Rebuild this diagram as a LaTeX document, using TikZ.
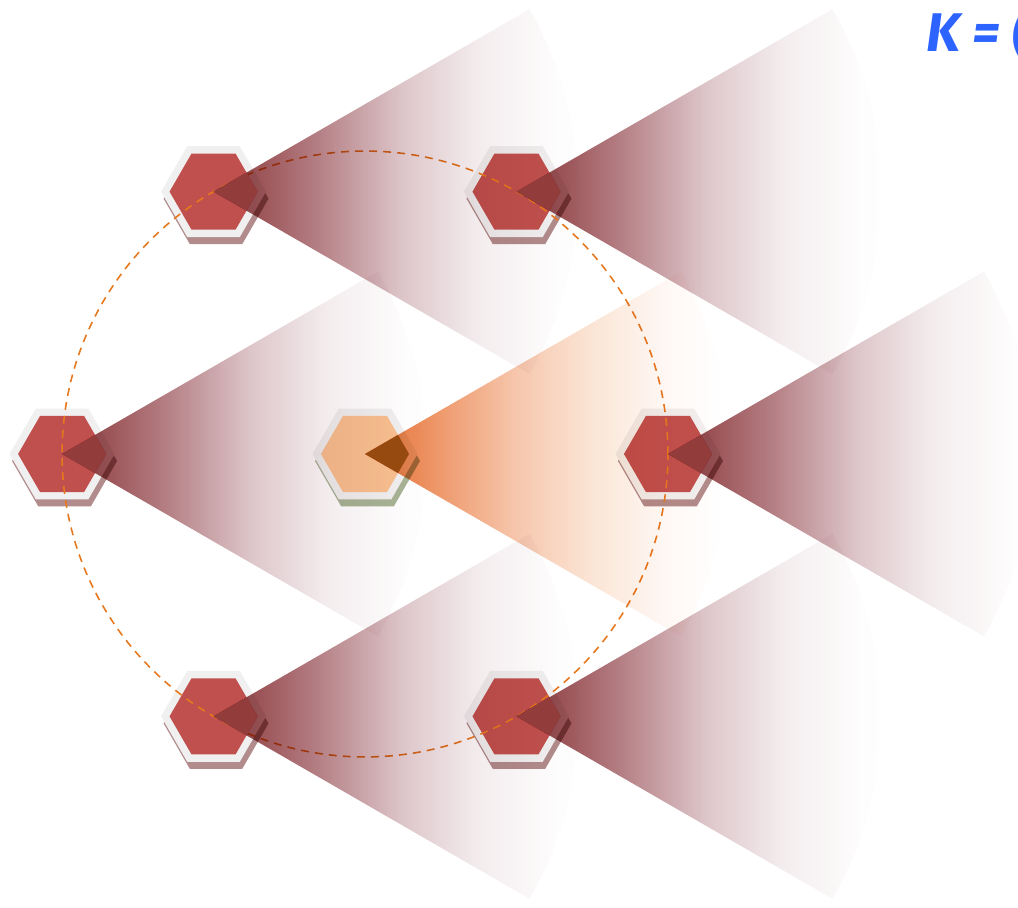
\documentclass[tikz,border=0pt]{standalone}
\usepackage{fontspec}
\setsansfont{Fira Sans}
\definecolor{hexRed}{RGB}{192,80,77}
\definecolor{hexOrange}{RGB}{248,192,144}
\definecolor{rimGray}{RGB}{240,240,240}
\definecolor{shadeRed}{RGB}{178,140,140}
\definecolor{shadeGreen}{RGB}{168,180,150}
\definecolor{apexRed}{RGB}{147,60,60}
\definecolor{apexBrown}{RGB}{150,74,16}
\definecolor{ringOrange}{RGB}{230,120,30}
\definecolor{inkBlue}{RGB}{45,100,255}
\usetikzlibrary{shapes.geometric,shadows,calc}
\pgfdeclarehorizontalshading{redCone}{100bp}{
  rgb(0bp)=(0.56,0.24,0.25); rgb(25bp)=(0.56,0.24,0.25);
  rgb(31bp)=(0.61,0.33,0.345); rgb(37.5bp)=(0.69,0.47,0.49);
  rgb(50bp)=(0.87,0.78,0.795); rgb(60bp)=(0.955,0.93,0.935);
  rgb(70bp)=(0.995,0.99,0.99); rgb(75bp)=(1,1,1); rgb(100bp)=(1,1,1)}
\pgfdeclarehorizontalshading{orangeCone}{100bp}{
  rgb(0bp)=(0.91,0.45,0.2); rgb(25bp)=(0.91,0.45,0.2);
  rgb(33bp)=(0.93,0.57,0.38); rgb(45bp)=(0.965,0.78,0.68);
  rgb(55bp)=(0.985,0.9,0.84); rgb(65bp)=(0.998,0.975,0.965);
  rgb(72bp)=(1,1,1); rgb(100bp)=(1,1,1)}

\begin{document}
\begin{tikzpicture}[
  x=0.02cm, y=-0.02cm,
  rim/.style={
    regular polygon, regular polygon sides=6, fill=rimGray,
    minimum size=2.1cm, inner sep=0pt, outer sep=0pt,
    drop shadow={shadow xshift=0.05cm, shadow yshift=-0.14cm, fill=#1, opacity=1}
  },
  core/.style={
    regular polygon, regular polygon sides=6, fill=#1,
    minimum size=1.76cm, inner sep=0pt, outer sep=0pt
  },
  apex/.style={
    regular polygon, regular polygon sides=6,
    minimum size=1.76cm, inner sep=0pt, outer sep=0pt,
    path picture={\fill[#1] (path picture bounding box.center) -- ++(30:2cm) -- ++(-90:2cm) -- cycle;}
  },
  cone/.style={shading=#1, blend mode=multiply},
  ring/.style={draw=ringOrange, line width=0.9pt, dash pattern=on 4.5pt off 3.5pt}
]
  \useasboundingbox (0,0) rectangle (1018,908);
  \clip (0,0) rectangle (1018,908);

  \node[rim=shadeGreen] (c0) at (365,454) {};
  \node[core=hexOrange] (c0i) at (c0) {};
  \node[rim=shadeRed] (h1) at ($(c0)+(120:6.06cm)$) {};
  \node[core=hexRed] (h1i) at (h1) {};
  \node[rim=shadeRed] (h2) at ($(c0)+(60:6.06cm)$) {};
  \node[core=hexRed] (h2i) at (h2) {};
  \node[rim=shadeRed] (h3) at ($(c0)+(180:6.06cm)$) {};
  \node[core=hexRed] (h3i) at (h3) {};
  \node[rim=shadeRed] (h4) at ($(c0)+(0:6.06cm)$) {};
  \node[core=hexRed] (h4i) at (h4) {};
  \node[rim=shadeRed] (h5) at ($(c0)+(240:6.06cm)$) {};
  \node[core=hexRed] (h5i) at (h5) {};
  \node[rim=shadeRed] (h6) at ($(c0)+(300:6.06cm)$) {};
  \node[core=hexRed] (h6i) at (h6) {};

  \draw[ring] (c0.center) circle[radius=6.06cm];

  \shade[cone=redCone] (h1.center) -- ++(30:7.3cm) arc[start angle=30, end angle=-30, radius=7.3cm] -- cycle;
  \shade[cone=redCone] (h2.center) -- ++(30:7.3cm) arc[start angle=30, end angle=-30, radius=7.3cm] -- cycle;
  \shade[cone=redCone] (h3.center) -- ++(30:7.3cm) arc[start angle=30, end angle=-30, radius=7.3cm] -- cycle;
  \shade[cone=redCone] (h4.center) -- ++(30:7.3cm) arc[start angle=30, end angle=-30, radius=7.3cm] -- cycle;
  \shade[cone=redCone] (h5.center) -- ++(30:7.3cm) arc[start angle=30, end angle=-30, radius=7.3cm] -- cycle;
  \shade[cone=redCone] (h6.center) -- ++(30:7.3cm) arc[start angle=30, end angle=-30, radius=7.3cm] -- cycle;
  \shade[cone=orangeCone] (c0.center) -- ++(30:7.3cm) arc[start angle=30, end angle=-30, radius=7.3cm] -- cycle;

  \node[apex=apexBrown] (c0w) at (c0) {};
  \node[apex=apexRed] (h1w) at (h1) {};
  \node[apex=apexRed] (h2w) at (h2) {};
  \node[apex=apexRed] (h3w) at (h3) {};
  \node[apex=apexRed] (h4w) at (h4) {};
  \node[apex=apexRed] (h5w) at (h5) {};
  \node[apex=apexRed] (h6w) at (h6) {};

  \node[font=\sffamily\bfseries\itshape\fontsize{31}{31}\selectfont, text=inkBlue, anchor=west, inner sep=0pt] (klabel) at (926,32) {K = (};
\end{tikzpicture}
\end{document}
